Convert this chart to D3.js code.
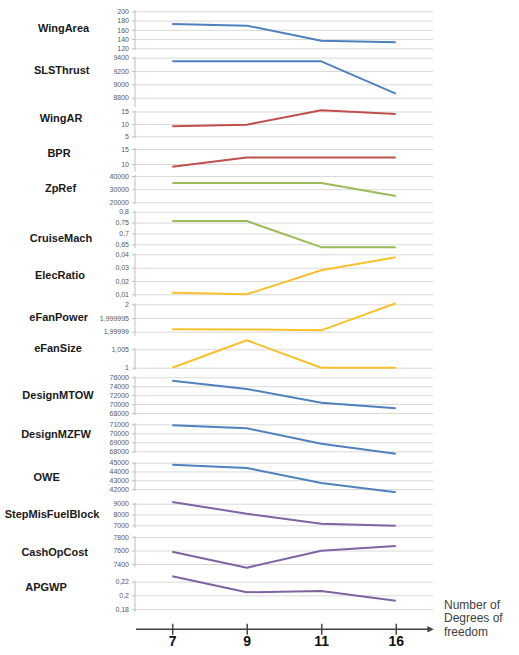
<!DOCTYPE html>
<html>
<head>
<meta charset="utf-8">
<script src="https://cdn.jsdelivr.net/npm/d3@7"></script>
<style>
  body { margin: 0; background: #fff; }
  svg { display: block; }
  .plabel { font-family: "Liberation Sans", Arial, sans-serif; font-weight: bold; font-size: 11px; fill: #1a1a1a; }
  .yaxis text { font-family: "Liberation Sans", Arial, sans-serif; font-size: 7px; fill: #595959; }
  .yaxis line, .yaxis path { stroke: #bfbfbf; }
  .grid line { stroke: #d9d9d9; }
  .grid path { display: none; }
</style>
</head>
<body>
<div class="graph"></div>
<script>
// categories on the x axis (number of degrees of freedom)
const categories = ['7', '9', '11', '16'];

// series values, one per parameter
const wingArea = [172.5, 169, 136.5, 133];
const slsThrust = [9346, 9346, 9346, 8860];
const wingAR = [9.1, 9.7, 15.5, 14];
const bpr = [9.1, 12.2, 12.2, 12.2];
const zpRef = [34700, 34700, 34600, 24800];
const cruiseMach = [0.757, 0.757, 0.637, 0.636];
const elecRatio = [0.0112, 0.0100, 0.028, 0.0378];
const eFanPower = [1.9999909, 1.9999908, 1.9999905, 2.0000004];
const eFanSize = [1, 1.00745, 1, 1];
const designMTOW = [75240, 73380, 70310, 69050];
const designMZFW = [70890, 70560, 68840, 67730];
const owe = [44770, 44400, 42690, 41620];
const stepMisFuelBlock = [9160, 8070, 7150, 6960];
const cashOpCost = [7582, 7345, 7597, 7667];
const apgwp = [0.2279, 0.2045, 0.2064, 0.1922];

// tick values and their labels (comma decimal separator as in the source)
const wingAreaTicks = [120, 140, 160, 180, 200];
const slsThrustTicks = [8800, 9000, 9200, 9400];
const wingARTicks = [5, 10, 15];
const bprTicks = [10, 15];
const zpRefTicks = [20000, 30000, 40000];
const cruiseMachTicks = [0.65, 0.7, 0.75, 0.8];
const cruiseMachLabels = ['0,65', '0,7', '0,75', '0,8'];
const elecRatioTicks = [0.01, 0.02, 0.03, 0.04];
const elecRatioLabels = ['0,01', '0,02', '0,03', '0,04'];
const eFanPowerTicks = [1.99999, 1.999995, 2];
const eFanPowerLabels = ['1,99999', '1,999995', '2'];
const eFanSizeTicks = [1, 1.005];
const eFanSizeLabels = ['1', '1,005'];
const designMTOWTicks = [68000, 70000, 72000, 74000, 76000];
const designMZFWTicks = [68000, 69000, 70000, 71000];
const oweTicks = [42000, 43000, 44000, 45000];
const stepMisFuelBlockTicks = [7000, 8000, 9000];
const cashOpCostTicks = [7400, 7600, 7800];
const apgwpTicks = [0.18, 0.2, 0.22];
const apgwpLabels = ['0,18', '0,2', '0,22'];

const axisTitle = ['Number of', 'Degrees of', 'freedom'];

var blue = '#4f81bd', red = '#c0504d', green = '#9bbb59', gold = '#f7c12e', purple = '#8064a2';

var panels = [
    { name: 'WingArea', values: wingArea, ticks: wingAreaTicks, color: blue },
    { name: 'SLSThrust', values: slsThrust, ticks: slsThrustTicks, color: blue },
    { name: 'WingAR', values: wingAR, ticks: wingARTicks, color: red },
    { name: 'BPR', values: bpr, ticks: bprTicks, color: red },
    { name: 'ZpRef', values: zpRef, ticks: zpRefTicks, color: green },
    { name: 'CruiseMach', values: cruiseMach, ticks: cruiseMachTicks, labels: cruiseMachLabels, color: green },
    { name: 'ElecRatio', values: elecRatio, ticks: elecRatioTicks, labels: elecRatioLabels, color: gold },
    { name: 'eFanPower', values: eFanPower, ticks: eFanPowerTicks, labels: eFanPowerLabels, color: gold },
    { name: 'eFanSize', values: eFanSize, ticks: eFanSizeTicks, labels: eFanSizeLabels, color: gold },
    { name: 'DesignMTOW', values: designMTOW, ticks: designMTOWTicks, color: blue },
    { name: 'DesignMZFW', values: designMZFW, ticks: designMZFWTicks, color: blue },
    { name: 'OWE', values: owe, ticks: oweTicks, color: blue },
    { name: 'StepMisFuelBlock', values: stepMisFuelBlock, ticks: stepMisFuelBlockTicks, color: purple },
    { name: 'CashOpCost', values: cashOpCost, ticks: cashOpCostTicks, color: purple },
    { name: 'APGWP', values: apgwp, ticks: apgwpTicks, labels: apgwpLabels, color: purple }
];

// layout: pixel rows of each panel's [lowest tick, highest tick], label centre x and y
var rows = [
    [48.3, 11.3], [97.7, 57.7], [136.3, 111.5], [164, 149], [202.3, 176],
    [244.3, 211.7], [294.3, 254.3], [331.7, 304.3], [367.7, 349.3], [413, 377.3],
    [451.3, 424.3], [489, 462.7], [525.3, 503.7], [564, 537], [609, 581.7]
];
var labelX = [63.5, 61.7, 61, 59, 60.5, 61, 60, 58.7, 58, 58, 56, 46.7, 52, 54.7, 46];
var labelY = [27.7, 70, 118.3, 152.7, 187.7, 238.3, 275, 317.3, 348.3, 395, 434, 476.7, 514.3, 551.7, 586.7];
var axisEnd = [50, 107, 138, 172, 204, 248, 297, 336, 370, 415, 453, 491, 528, 567, 612];

var width = 519,
    height = 655,
    left = 135,
    right = 433;

var x = d3.scalePoint()
    .domain(categories)
    .range([left, right])
    .padding(0.5);

var svg = d3.select('.graph').append('svg')
    .attr('width', width)
    .attr('height', height);

var line = d3.line()
    .x(function (d, i) { return x(categories[i]) })
    .y(function (d) { return d });

panels.forEach(function (p, k) {
    var y = d3.scaleLinear()
        .domain([p.ticks[0], p.ticks[p.ticks.length - 1]])
        .range(rows[k]);

    var g = svg.append('g').attr('class', 'panel');

    // gridlines
    g.append('g')
        .attr('class', 'grid')
        .attr('transform', 'translate(' + left + ',0)')
        .call(d3.axisRight(y).tickValues(p.ticks).tickSize(right - left).tickFormat(''));

    // y axis
    var axis = d3.axisLeft(y)
        .tickValues(p.ticks)
        .tickSize(3)
        .tickPadding(3)
        .tickFormat(function (d, i) { return p.labels ? p.labels[i] : d3.format('d')(d) });
    var ga = g.append('g')
        .attr('class', 'yaxis')
        .attr('transform', 'translate(' + left + ',0)')
        .call(axis);
    ga.select('.domain').remove();
    ga.append('line')
        .attr('y1', rows[k][1] - 1)
        .attr('y2', axisEnd[k])
        .attr('stroke', '#bfbfbf');

    g.append('path')
        .datum(p.values.map(function (v) { return y(v) }))
        .attr('fill', 'none')
        .attr('stroke', p.color)
        .attr('stroke-width', 2)
        .attr('stroke-linejoin', 'round')
        .attr('d', line);

    svg.append('text')
        .attr('class', 'plabel')
        .attr('x', labelX[k])
        .attr('y', labelY[k])
        .attr('dy', '0.36em')
        .attr('text-anchor', 'middle')
        .text(p.name);
});

// bottom axis with arrow
var axisY = 629.3;
svg.append('defs').append('marker')
    .attr('id', 'arrow')
    .attr('viewBox', '0 0 10 10')
    .attr('refX', 1)
    .attr('refY', 5)
    .attr('markerWidth', 4)
    .attr('markerHeight', 4)
    .attr('orient', 'auto')
    .append('path')
    .attr('d', 'M0,0L10,5L0,10z')
    .attr('fill', '#404040');

svg.append('line')
    .attr('x1', left + 1)
    .attr('x2', right - 5)
    .attr('y1', axisY)
    .attr('y2', axisY)
    .attr('stroke', '#404040')
    .attr('stroke-width', 1.6)
    .attr('marker-end', 'url(#arrow)');

var xAxis = svg.append('g')
    .attr('transform', 'translate(0,' + (axisY - 5.5) + ')')
    .call(d3.axisBottom(x).tickSize(11).tickPadding(1.5));
xAxis.select('.domain').remove();
xAxis.selectAll('line').attr('stroke', '#404040').attr('stroke-width', 1.4);
xAxis.selectAll('text')
    .attr('fill', '#111')
    .style('font-family', '"Liberation Sans", Arial, sans-serif')
    .style('font-weight', 'bold')
    .style('font-size', '14px');

svg.append('text')
    .attr('x', 444)
    .attr('y', 608.5)
    .style('font-family', '"Liberation Sans", Arial, sans-serif')
    .style('font-size', '12px')
    .attr('fill', '#404040')
    .selectAll('tspan')
    .data(axisTitle)
    .join('tspan')
    .attr('x', 444)
    .attr('dy', function (d, i) { return i ? 13.7 : 0 })
    .text(function (d) { return d });
</script>
</body>
</html>
